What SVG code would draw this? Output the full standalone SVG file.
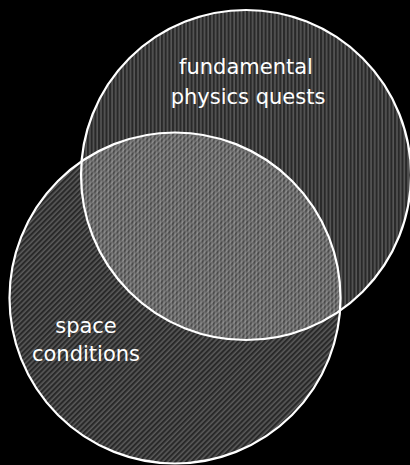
<svg xmlns="http://www.w3.org/2000/svg" width="410" height="465" viewBox="0 0 410 465">
<style>
.bg{fill:#fff;fill-opacity:0.16}
.outline{fill:none;stroke:#fff;stroke-width:2.2}
.lbl{font-family:"DejaVu Sans","Liberation Sans",sans-serif;font-size:21px;fill:#fff;text-anchor:middle}
</style>
<defs>
<pattern id="vlines" patternUnits="userSpaceOnUse" width="3.7" height="10">
<line x1="1" y1="0" x2="1" y2="10" stroke="#fff" stroke-opacity="0.45" stroke-width="0.8"/>
</pattern>
<pattern id="dlines" patternUnits="userSpaceOnUse" width="3.7" height="3.7" patternTransform="rotate(45)">
<line x1="1" y1="0" x2="1" y2="3.7" stroke="#fff" stroke-opacity="0.45" stroke-width="0.8"/>
</pattern>
</defs>
<rect width="410" height="465" fill="#000"/>
<g id="fundamental">
<circle class="bg" cx="246" cy="175" r="165"/>
<circle cx="246" cy="175" r="165" fill="url(#vlines)"/>
</g>
<g id="space">
<circle class="bg" cx="175" cy="298" r="165.5"/>
<circle cx="175" cy="298" r="165.5" fill="url(#dlines)"/>
</g>
<g id="outlines">
<circle class="outline" cx="246" cy="175" r="165"/>
<circle class="outline" cx="175" cy="298" r="165.5"/>
</g>
<g id="labels">
<text class="lbl" x="246" y="74">fundamental</text>
<text class="lbl" x="248" y="104">physics quests</text>
<text class="lbl" x="86" y="333">space</text>
<text class="lbl" x="86" y="361">conditions</text>
</g>
</svg>
